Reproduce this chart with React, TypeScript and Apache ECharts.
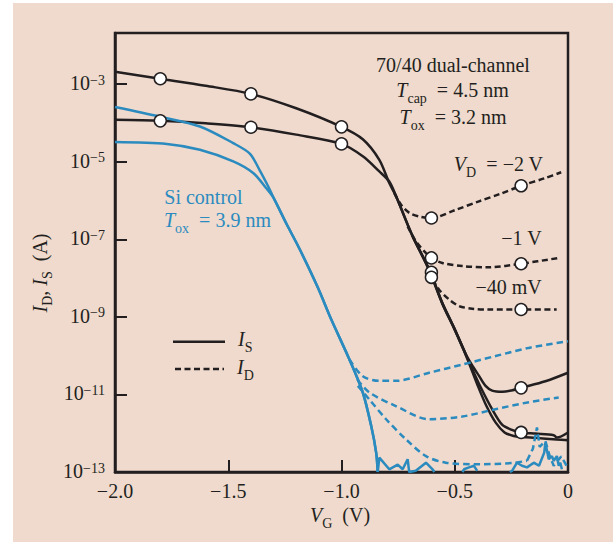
import React, { useEffect, useRef } from 'react';
import * as echarts from 'echarts';

// ---------- layout constants ----------
const OX = 13;
const OY = 3;
const W = 613;
const H = 542;
const Y0 = 13; // axis value = log10(I) + 13  (so that the 10^-13 floor sits at 0)

const FONT = '"Liberation Serif", "Times New Roman", Times, serif';
const INK = '#231f20';
const BLUE = '#2b8bbf';
const BG = '#efdacd';

// ---------- axes ----------
const xTickValues = [-2.0, -1.5, -1.0, -0.5, 0];
const yExponents = [-13, -11, -9, -7, -5, -3];
const yTopExponent = -1.68;

// ---------- data: [V_G (V), log10(I (A))] ----------
// 70/40 dual-channel, I_S
const isVd2Head = [[-2.0, -2.68], [-1.8, -2.86], [-1.6, -3.04], [-1.4, -3.25], [-1.2, -3.62], [-1.0, -4.10], [-0.906, -4.42], [-0.833, -4.95], [-0.789, -5.55]];
const isVd1Head = [[-2.0, -3.92], [-1.8, -3.945], [-1.6, -4.01], [-1.4, -4.11], [-1.2, -4.30], [-1.0, -4.54], [-0.906, -4.86], [-0.833, -5.25], [-0.789, -5.51]];
const isSteep = [[-0.759, -5.89], [-0.686, -6.92], [-0.613, -7.78], [-0.555, -8.64], [-0.503, -9.28], [-0.45, -9.98]];
const isVd2Tail = [[-0.42, -10.28], [-0.393, -10.52], [-0.364, -10.78], [-0.335, -10.90], [-0.29, -10.93], [-0.25, -10.90], [-0.207, -10.83], [-0.1, -10.66], [0, -10.44]];
const isVd1Tail = [[-0.42, -10.38], [-0.38, -10.88], [-0.335, -11.38], [-0.291, -11.78], [-0.254, -11.90], [-0.207, -11.98], [-0.144, -12.01], [-0.063, -12.05], [-0.049, -12.11], [0, -11.98]];
const isVd004 = [[-0.686, -6.92], [-0.613, -7.80], [-0.555, -8.66], [-0.503, -9.30], [-0.45, -10.0], [-0.40, -10.75], [-0.36, -11.3], [-0.32, -11.72], [-0.28, -11.98], [-0.24, -12.07], [-0.2, -12.10], [-0.144, -12.12], [-0.05, -12.16], [0, -12.18]];
// 70/40 dual-channel, I_D
const idVd2 = [[-0.767, -5.81], [-0.737, -6.11], [-0.700, -6.32], [-0.657, -6.41], [-0.603, -6.45], [-0.5, -6.25], [-0.393, -6.02], [-0.3, -5.83], [-0.207, -5.62], [-0.1, -5.42], [-0.03, -5.27]];
const idVd1 = [[-0.708, -6.67], [-0.672, -7.05], [-0.628, -7.35], [-0.603, -7.48], [-0.555, -7.61], [-0.467, -7.69], [-0.349, -7.72], [-0.207, -7.63], [-0.041, -7.48]];
const idVd004 = [[-0.598, -8.04], [-0.569, -8.30], [-0.525, -8.55], [-0.481, -8.72], [-0.423, -8.79], [-0.349, -8.81], [-0.207, -8.81], [-0.05, -8.81]];
// open-circle markers
const markers = [
  [-1.8, -2.86], [-1.4, -3.25], [-1.0, -4.10],
  [-1.8, -3.945], [-1.4, -4.11], [-1.0, -4.54],
  [-0.603, -6.45], [-0.207, -5.62],
  [-0.603, -7.48], [-0.207, -7.63],
  [-0.603, -7.85], [-0.603, -7.98],
  [-0.207, -8.81], [-0.207, -10.83], [-0.207, -11.98],
];
// Si control, I_S
const siIsVd2Head = [[-2.0, -3.59], [-1.8, -3.84], [-1.625, -4.09], [-1.478, -4.52], [-1.405, -4.79], [-1.361, -5.22], [-1.325, -5.62]];
const siIsVd1Head = [[-2.0, -4.49], [-1.771, -4.54], [-1.625, -4.69], [-1.478, -4.99], [-1.39, -5.29], [-1.331, -5.69]];
const siIsSteep = [[-1.300, -5.93], [-1.243, -6.60], [-1.185, -7.25], [-1.104, -8.25], [-1.045, -9.07], [-0.965, -10.10], [-0.906, -10.95], [-0.869, -11.81], [-0.847, -12.50], [-0.840, -13.0]];
const siNoise1 = [[-0.840, -13.0], [-0.833, -12.63], [-0.789, -12.93], [-0.752, -12.81], [-0.730, -12.93], [-0.708, -12.67], [-0.701, -13.0], [-0.672, -12.97], [-0.627, -12.76], [-0.598, -12.93], [-0.59, -13.0]];
const siNoise2 = [[-0.466, -13.0], [-0.459, -12.93], [-0.437, -12.88], [-0.415, -12.84], [-0.401, -12.97]];
const siNoise3 = [[-0.257, -13.0], [-0.247, -12.97], [-0.225, -12.76], [-0.203, -12.84], [-0.181, -12.88], [-0.151, -12.76], [-0.128, -12.84], [-0.105, -12.50], [-0.100, -12.24], [-0.085, -12.67], [-0.071, -12.59], [-0.063, -12.71], [-0.049, -12.59], [-0.041, -12.84], [-0.034, -12.76], [-0.027, -12.93]];
// Si control, I_D
const siIdVd2 = [[-0.965, -10.10], [-0.906, -10.53], [-0.833, -10.65], [-0.760, -10.65], [-0.613, -10.44], [-0.467, -10.23], [-0.320, -10.01], [-0.173, -9.80], [0, -9.63]];
const siIdVd1 = [[-0.93, -10.62], [-0.877, -10.95], [-0.760, -11.30], [-0.613, -11.64], [-0.467, -11.57], [-0.320, -11.38], [-0.173, -11.20], [-0.041, -11.08]];
const siIdVd004 = [[-0.928, -10.78], [-0.877, -11.13], [-0.803, -11.64], [-0.715, -12.16], [-0.627, -12.59], [-0.540, -12.76], [-0.393, -12.80], [-0.247, -12.77], [-0.181, -12.71]];
const siIdVd004Noise = [[-0.181, -12.71], [-0.155, -12.40], [-0.137, -11.85], [-0.125, -12.35], [-0.1, -12.2], [-0.08, -12.6], [-0.063, -12.84], [-0.03, -12.6], [0, -12.9]];

// ---------- helpers ----------
const toData = (pts: number[][]) => pts.map(([v, l]) => [v, +(l + Y0).toFixed(3)]);

const BLACK_DASH = [6, 3.5];
const BLUE_DASH = [6.5, 4];

function line(name: string, pts: number[][], color: string, dash: number[] | null, smooth: boolean) {
  return {
    type: 'line',
    name,
    data: toData(pts),
    showSymbol: false,
    symbol: 'none',
    smooth: smooth ? 0.3 : false,
    silent: true,
    z: 2,
    lineStyle: { color, width: 2.5, type: dash ? dash : 'solid', cap: 'butt' },
  };
}

const richFor = (color: string) => ({
  n: { fontFamily: FONT, fontSize: 20, color, lineHeight: 22, verticalAlign: 'top' },
  i: { fontFamily: FONT, fontSize: 20, fontStyle: 'italic', color, lineHeight: 22, verticalAlign: 'top' },
  s: { fontFamily: FONT, fontSize: 14, color, lineHeight: 14, padding: [11, 0, 0, 0], verticalAlign: 'top' },
});

function label(text: string, x: number, y: number, align: string, color = INK, extra: any = {}) {
  return {
    type: 'text',
    x: x - OX,
    y: y - OY,
    z: 10,
    silent: true,
    ...extra,
    style: {
      text,
      rich: richFor(color),
      fill: color,
      fontFamily: FONT,
      fontSize: 20,
      align,
      textAlign: align,
      verticalAlign: extra.vAlign || 'top',
      textVerticalAlign: extra.vAlign || 'top',
    },
  };
}

function buildOption() {
  const series: any[] = [
    line('IS VD=-2V', [...isVd2Head, ...isSteep, ...isVd2Tail], INK, null, true),
    line('IS VD=-1V', [...isVd1Head, ...isSteep, ...isVd1Tail], INK, null, true),
    line('IS VD=-40mV', isVd004, INK, null, true),
    line('ID VD=-2V', idVd2, INK, BLACK_DASH, true),
    line('ID VD=-1V', idVd1, INK, BLACK_DASH, true),
    line('ID VD=-40mV', idVd004, INK, BLACK_DASH, true),
    line('Si IS VD=-2V', [...siIsVd2Head, ...siIsSteep], BLUE, null, true),
    line('Si IS VD=-1V', [...siIsVd1Head, ...siIsSteep], BLUE, null, true),
    line('Si IS noise 1', siNoise1, BLUE, null, false),
    line('Si IS noise 2', siNoise2, BLUE, null, false),
    line('Si IS noise 3', siNoise3, BLUE, null, false),
    line('Si ID VD=-2V', siIdVd2, BLUE, BLUE_DASH, true),
    line('Si ID VD=-1V', siIdVd1, BLUE, BLUE_DASH, true),
    line('Si ID VD=-40mV', siIdVd004, BLUE, BLUE_DASH, true),
    line('Si ID VD=-40mV noise', siIdVd004Noise, BLUE, BLUE_DASH, false),
    {
      type: 'scatter',
      name: 'markers',
      data: toData(markers),
      symbol: 'circle',
      symbolSize: 12,
      silent: true,
      z: 5,
      itemStyle: { color: '#ffffff', borderColor: INK, borderWidth: 1.5, opacity: 1 },
    },
  ];

  const yTickSet = new Set(yExponents.map((e) => e + Y0));

  return {
    animation: false,
    backgroundColor: BG,
    grid: {
      left: 115 - OX,
      top: 33 - OY,
      right: W - 568,
      bottom: H - 472,
      show: true,
      borderColor: INK,
      borderWidth: 2.5,
      backgroundColor: 'transparent',
    },
    xAxis: {
      type: 'value',
      min: xTickValues[0],
      max: xTickValues[xTickValues.length - 1],
      interval: 0.5,
      axisLine: { show: true, onZero: false, lineStyle: { color: INK, width: 2.5 } },
      axisTick: { show: true, inside: true, length: 12, lineStyle: { color: INK, width: 2 } },
      splitLine: { show: false },
      axisLabel: {
        margin: 9,
        fontFamily: FONT,
        fontSize: 20,
        color: INK,
        formatter: (v: number) => (Math.abs(v) < 1e-9 ? '0' : '\u2212' + Math.abs(v).toFixed(1)),
      },
    },
    yAxis: {
      type: 'value',
      min: yExponents[0] + Y0,
      max: yTopExponent + Y0,
      interval: 2,
      axisLine: { show: true, onZero: false, lineStyle: { color: INK, width: 2.5 } },
      axisTick: { show: true, inside: true, length: 12, lineStyle: { color: INK, width: 2 } },
      splitLine: { show: false },
      axisLabel: {
        margin: 10,
        showMaxLabel: false,
        formatter: (v: number) => {
          const r = Math.round(v);
          if (Math.abs(v - r) > 1e-6 || !yTickSet.has(r)) return '';
          return '{b|10}{e|\u2212' + Math.abs(r - Y0) + '}';
        },
        rich: {
          b: { fontFamily: FONT, fontSize: 20, color: INK, lineHeight: 22, verticalAlign: 'top' },
          e: { fontFamily: FONT, fontSize: 14, color: INK, lineHeight: 14, verticalAlign: 'top' },
        },
      },
    },
    graphic: [
      // annotations
      label('{n|70/40 dual-channel}', 453, 55, 'center'),
      label('{i|T}{s|cap}{n|  = 4.5 nm}', 452.5, 80, 'center'),
      label('{i|T}{s|ox}{n|  = 3.2 nm}', 453, 107.3, 'center'),
      label('{i|V}{s|D}{n|  = \u22122 V}', 543, 154, 'right'),
      label('{n|\u22121 V}', 541.7, 228.3, 'right'),
      label('{n|\u221240 mV}', 541.7, 277.3, 'right'),
      label('{n|Si control}', 164.3, 187.3, 'left', BLUE),
      label('{i|T}{s|ox}{n|  = 3.9 nm}', 164, 210, 'left', BLUE),
      // legend
      {
        type: 'line', z: 10, silent: true,
        shape: { x1: 173 - OX, y1: 341.7 - OY, x2: 225 - OX, y2: 341.7 - OY },
        style: { stroke: INK, lineWidth: 2.5 },
      },
      {
        type: 'line', z: 10, silent: true,
        shape: { x1: 175 - OX, y1: 369 - OY, x2: 224 - OX, y2: 369 - OY },
        style: { stroke: INK, lineWidth: 2.5, lineDash: BLACK_DASH },
      },
      label('{i|I}{s|S}', 238, 329, 'left'),
      label('{i|I}{s|D}', 237, 357.3, 'left'),
      // axis titles
      label('{i|V}{s|G}{n|  (V)}', 310, 505.3, 'left'),
      label('{i|I}{s|D}{n|, }{i|I}{s|S}{n|  (A)}', 40.6, 273, 'center', INK, { rotation: Math.PI / 2, vAlign: 'middle' }),
    ],
    series,
  };
}

export default function App() {
  const ref = useRef<HTMLDivElement>(null);
  useEffect(() => {
    if (!ref.current) return;
    const chart = echarts.init(ref.current, null, { renderer: 'svg' });
    chart.setOption(buildOption() as any);
    return () => chart.dispose();
  }, []);
  return (
    <div style={{ position: 'fixed', left: 0, top: 0, width: W, height: H, background: '#ffffff', overflow: 'hidden' }}>
      <div ref={ref} style={{ position: 'absolute', left: OX, top: OY, width: W - OX, height: H - OY }} />
    </div>
  );
}
